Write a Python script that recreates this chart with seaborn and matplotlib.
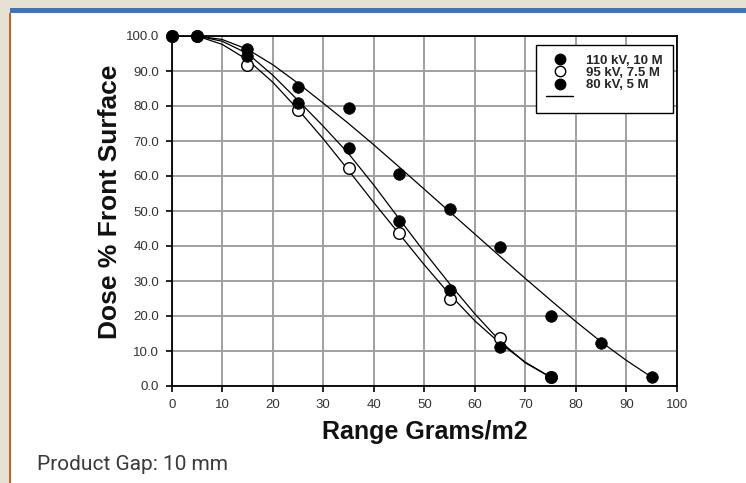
import matplotlib
matplotlib.use("Agg")
import matplotlib.pyplot as plt
from matplotlib.patches import Rectangle
from matplotlib.lines import Line2D
import seaborn as sns

# ---- data ----
pts_x_110 = [0, 5, 15, 25, 35, 45, 55, 65, 75, 85, 95]
pts_y_110 = [100, 100, 96.3, 85.3, 79.5, 60.6, 50.5, 39.8, 20.1, 12.2, 2.5]

pts_x_95 = [0, 5, 15, 25, 35, 45, 55, 65, 75]
pts_y_95 = [100, 100, 91.7, 78.9, 62.2, 43.8, 25.0, 13.6, 2.5]

pts_x_80 = [0, 5, 15, 25, 35, 45, 55, 65, 75]
pts_y_80 = [100, 100, 94.4, 80.8, 68.1, 47.2, 27.4, 11.2, 2.5]

# fitted trend curves
curve_x_110 = [0, 5, 10, 15, 20, 25, 30, 35, 40, 45, 50, 55, 60, 65, 70, 75, 80, 85, 90, 95]
curve_y_110 = [100, 100, 99, 96.2, 91.8, 86.5, 80.8, 75, 68.9, 62.6, 56.2, 49.8, 43.4, 37.0,
               30.7, 24.5, 18.4, 12.6, 7.3, 2.5]

curve_x_lo = [0, 5, 10, 15, 20, 25, 30, 35, 40, 45, 50, 55, 60, 65, 70, 75]
curve_y_95 = [100, 100, 97.6, 93.2, 86.8, 79, 70.6, 61.6, 52.4, 43.5, 34.6, 26.2, 18.6, 12.2,
              6.8, 2.5]
curve_y_80 = [100, 100, 98.5, 95, 88.8, 81.6, 74.2, 66.4, 57.4, 47.8, 38.3, 29.2, 20.6, 12.8,
              6.6, 2.5]

series_labels = ["110 kV, 10 M", "95 kV, 7.5 M", "80 kV, 5 M"]
x_ticks = [0, 10, 20, 30, 40, 50, 60, 70, 80, 90, 100]
y_ticks = [0, 10, 20, 30, 40, 50, 60, 70, 80, 90, 100]

# ---- figure ----
sns.set_style("white")
plt.rcParams["font.family"] = ["Liberation Sans", "DejaVu Sans"]

W, H = 746, 483
fig = plt.figure(figsize=(W / 100, H / 100), dpi=100, facecolor="#E6E2D3")

# page decorations
fig.add_artist(Rectangle((10 / W, 0), 1, 1 - 13 / H, transform=fig.transFigure,
                         facecolor="white", edgecolor="none", zorder=-10))
fig.add_artist(Rectangle((10 / W, 1 - 13 / H), 1, 5 / H, transform=fig.transFigure,
                         facecolor="#3A75BD", edgecolor="none", zorder=-9))
fig.add_artist(Rectangle((9 / W, 0), 2 / W, 1 - 13 / H, transform=fig.transFigure,
                         facecolor="#C8601E", edgecolor="none", zorder=-9))

ax = fig.add_axes([171.7 / W, 1 - 386 / H, 505.3 / W, 350 / H])
ax.set_facecolor("white")

# curves
for cx, cy in [(curve_x_110, curve_y_110), (curve_x_lo, curve_y_95), (curve_x_lo, curve_y_80)]:
    sns.lineplot(x=cx, y=cy, ax=ax, color="black", linewidth=0.9, zorder=3)

# points
sns.scatterplot(x=pts_x_95, y=pts_y_95, ax=ax, s=70, color="white", edgecolor="black",
                linewidth=1.0, zorder=4, clip_on=False)
sns.scatterplot(x=pts_x_80, y=pts_y_80, ax=ax, s=70, color="black", edgecolor="black",
                linewidth=0.5, zorder=5, clip_on=False)
sns.scatterplot(x=pts_x_110, y=pts_y_110, ax=ax, s=70, color="black", edgecolor="black",
                linewidth=0.5, zorder=5, clip_on=False)

ax.set_xlim(0, 100)
ax.set_ylim(0, 100)
ax.set_xticks(x_ticks)
ax.set_yticks(y_ticks)
ax.set_xticklabels([str(v) for v in x_ticks], fontsize=9.5, color="#333333")
ax.set_yticklabels([f"{v:.1f}" for v in y_ticks], fontsize=9.5, color="#333333")
ax.tick_params(axis="both", direction="out", length=4, width=1.2, color="black",
               left=True, bottom=True)
ax.tick_params(axis="y", pad=5)
ax.tick_params(axis="x", pad=5.5)
ax.grid(True, color="#a0a0a0", linewidth=1.4, zorder=0)
ax.set_axisbelow(True)
for sp in ax.spines.values():
    sp.set_visible(True)
    sp.set_color("black")
    sp.set_linewidth(1.3)

ax.set_xlabel("Range Grams/m2", fontsize=18, fontweight="bold", color="#111111")
ax.set_ylabel("Dose % Front Surface", fontsize=19, fontweight="bold", color="#111111")
ax.xaxis.set_label_coords(0.5, -0.097)
ax.yaxis.set_label_coords(-0.098, 0.525)

# legend
handles = [
    Line2D([], [], linestyle="none", marker="o", markersize=7.5, markerfacecolor="black",
           markeredgecolor="black"),
    Line2D([], [], linestyle="none", marker="o", markersize=7.5, markerfacecolor="white",
           markeredgecolor="black"),
    Line2D([], [], linestyle="none", marker="o", markersize=7.5, markerfacecolor="black",
           markeredgecolor="black"),
    Line2D([], [], color="black", linewidth=1.0),
]
leg = ax.legend(handles, series_labels + [""], loc="upper right",
                bbox_to_anchor=(0.992, 0.975), frameon=True, fancybox=False,
                prop={"weight": "bold", "size": 9.5}, labelspacing=0.0,
                handlelength=2.05, handletextpad=1.0, borderpad=0.75,
                borderaxespad=0.0)
leg.get_frame().set_edgecolor("black")
leg.get_frame().set_linewidth(1.0)
leg.get_frame().set_facecolor("white")
leg.get_frame().set_alpha(1)

fig.text(37 / W, 1 - 470 / H, "Product Gap: 10 mm", fontsize=15, color="#3a3a3a",
         family=["Roboto", "DejaVu Sans"], va="baseline", ha="left")

fig.savefig("out.png", dpi=100, facecolor=fig.get_facecolor())
